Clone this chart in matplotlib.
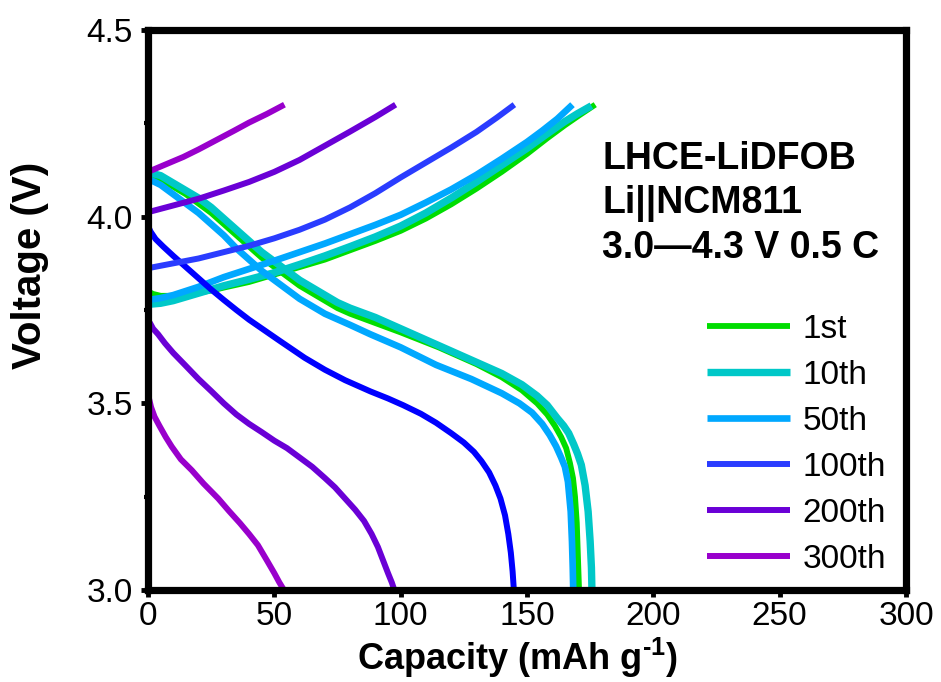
import matplotlib
matplotlib.use("Agg")
import matplotlib.pyplot as plt
from matplotlib.ticker import MultipleLocator, FormatStrFormatter

plt.rcParams['font.family'] = ['Liberation Sans', 'DejaVu Sans']
plt.rcParams['mathtext.fontset'] = 'custom'
plt.rcParams['mathtext.rm'] = 'Liberation Sans'
plt.rcParams['mathtext.bf'] = 'Liberation Sans:bold'

labels = ["1st", "10th", "50th", "100th", "200th", "300th"]
colors_charge = ["#00dd00", "#00c8c8", "#00a8ff", "#2a3cff", "#6a00d6", "#9900cc"]
colors_discharge = ["#00dd00", "#00c8c8", "#00a8ff", "#0000ff", "#6a00d6", "#9900cc"]
widths = [4.2, 5.3, 4.8, 4.3, 4.3, 4.3]

# charge curves (capacity mAh/g, voltage V)
c1_cap = [0, 2, 5, 10, 15, 20, 25, 30, 40, 50, 60, 70, 80, 90, 100, 110, 120, 130, 140, 150, 158, 165, 171, 177]
c1_v = [3.80, 3.793, 3.788, 3.788, 3.792, 3.797, 3.802, 3.81, 3.825, 3.845, 3.865, 3.885, 3.91, 3.935,
        3.962, 3.995, 4.033, 4.075, 4.12, 4.168, 4.21, 4.245, 4.273, 4.30]
c10_cap = [0, 5, 10, 20, 30, 40, 50, 60, 70, 80, 90, 100, 110, 120, 130, 140, 150, 158, 165, 170, 175.5]
c10_v = [3.765, 3.768, 3.775, 3.795, 3.815, 3.832, 3.85, 3.872, 3.895, 3.92, 3.946, 3.975, 4.01, 4.05,
         4.093, 4.138, 4.183, 4.222, 4.255, 4.276, 4.297]
c50_cap = [0, 5, 10, 20, 30, 40, 50, 60, 70, 80, 90, 100, 110, 120, 130, 140, 150, 156, 162, 168]
c50_v = [3.777, 3.782, 3.79, 3.812, 3.838, 3.86, 3.882, 3.905, 3.928, 3.953, 3.978, 4.005, 4.038, 4.073,
         4.112, 4.155, 4.20, 4.23, 4.262, 4.30]
c100_cap = [0, 10, 20, 30, 40, 50, 60, 70, 80, 90, 100, 110, 120, 130, 138, 145]
c100_v = [3.862, 3.875, 3.888, 3.905, 3.922, 3.942, 3.965, 3.992, 4.025, 4.063, 4.105, 4.145, 4.185,
          4.227, 4.265, 4.30]
c200_cap = [0, 10, 20, 30, 40, 50, 60, 70, 80, 90, 98]
c200_v = [4.012, 4.03, 4.048, 4.07, 4.093, 4.12, 4.152, 4.19, 4.228, 4.267, 4.30]
c300_cap = [0, 7, 14, 20, 27, 34, 40, 47, 54]
c300_v = [4.12, 4.14, 4.16, 4.18, 4.205, 4.23, 4.252, 4.275, 4.30]

# discharge curves
d1_cap = [0, 2, 5, 10, 15, 20, 25, 30, 35, 40, 45, 50, 55, 60, 65, 70, 75, 80, 90, 100, 115, 130, 140,
          148, 154, 158, 161, 163.5, 165.5, 167, 168.2, 169, 169.7, 170.1, 170.4, 170.6]
d1_v = [4.10, 4.105, 4.10, 4.08, 4.06, 4.035, 4.01, 3.98, 3.95, 3.92, 3.89, 3.865, 3.84, 3.815, 3.795,
        3.775, 3.755, 3.74, 3.715, 3.69, 3.65, 3.605, 3.57, 3.535, 3.50, 3.47, 3.44, 3.41, 3.38, 3.34,
        3.30, 3.25, 3.18, 3.10, 3.04, 3.0]
d10_cap = [0, 2, 5, 10, 15, 20, 25, 30, 35, 40, 45, 50, 55, 60, 65, 70, 75, 80, 90, 100, 115, 130, 140,
           148, 154, 158, 162, 164.5, 166.5, 168.5, 170, 171.5, 173, 174.2, 175, 175.5, 175.7]
d10_v = [4.11, 4.115, 4.11, 4.09, 4.07, 4.05, 4.025, 3.995, 3.965, 3.935, 3.905, 3.88, 3.855, 3.83,
         3.81, 3.79, 3.77, 3.755, 3.73, 3.70, 3.655, 3.61, 3.58, 3.55, 3.52, 3.495, 3.46, 3.44, 3.42,
         3.39, 3.365, 3.335, 3.28, 3.21, 3.13, 3.06, 3.0]
d50_cap = [0, 2, 5, 10, 15, 20, 25, 30, 35, 40, 45, 50, 55, 60, 65, 70, 75, 80, 88, 100, 114, 128, 140,
           147, 152, 156, 159, 161.5, 163.5, 165, 166.2, 167.3, 167.8, 168.1, 168.3]
d50_v = [4.095, 4.095, 4.085, 4.06, 4.035, 4.01, 3.98, 3.95, 3.915, 3.885, 3.855, 3.83, 3.805, 3.78,
         3.76, 3.74, 3.725, 3.71, 3.685, 3.65, 3.603, 3.565, 3.527, 3.50, 3.475, 3.445, 3.415, 3.385,
         3.355, 3.33, 3.29, 3.21, 3.13, 3.06, 3.0]
d100_cap = [0, 1, 3, 6, 10, 15, 20, 25, 30, 35, 40, 46, 52, 57, 62, 70, 78, 88, 95, 101, 108, 114, 120,
            125, 129, 132, 135, 137.5, 139.5, 141.3, 142.6, 143.6, 144.3, 144.8]
d100_v = [3.975, 3.96, 3.94, 3.92, 3.895, 3.865, 3.835, 3.805, 3.777, 3.75, 3.724, 3.696, 3.668, 3.645,
          3.622, 3.59, 3.562, 3.532, 3.513, 3.495, 3.472, 3.448, 3.42, 3.395, 3.37, 3.345, 3.315, 3.28,
          3.245, 3.20, 3.15, 3.10, 3.05, 3.0]
d200_cap = [0, 0.8, 2, 4, 6.7, 10, 14.6, 20, 25, 30, 35, 40, 45, 50, 55, 60, 65, 70, 74, 78, 82, 85.5,
            88.5, 91, 93, 95, 96.5, 97.5]
d200_v = [3.72, 3.715, 3.70, 3.685, 3.661, 3.635, 3.603, 3.565, 3.533, 3.50, 3.47, 3.445, 3.423, 3.40,
          3.38, 3.355, 3.33, 3.30, 3.275, 3.245, 3.215, 3.185, 3.15, 3.115, 3.08, 3.045, 3.02, 3.0]
d300_cap = [0, 0.5, 1.2, 2.6, 4.5, 7, 9.4, 13, 17.3, 22, 27.8, 32, 36.4, 40, 43.5, 47, 50, 52, 53.8]
d300_v = [3.52, 3.51, 3.49, 3.464, 3.44, 3.41, 3.384, 3.35, 3.321, 3.285, 3.245, 3.212, 3.179, 3.15,
          3.12, 3.08, 3.045, 3.02, 3.0]

charges = [(c1_cap, c1_v), (c10_cap, c10_v), (c50_cap, c50_v),
           (c100_cap, c100_v), (c200_cap, c200_v), (c300_cap, c300_v)]
discharges = [(d1_cap, d1_v), (d10_cap, d10_v), (d50_cap, d50_v),
              (d100_cap, d100_v), (d200_cap, d200_v), (d300_cap, d300_v)]

fig = plt.figure(figsize=(9.41, 6.82), dpi=100)
ax = fig.add_axes([148 / 941, 1 - 590 / 682, 758 / 941, 560 / 682])

for i in range(6):
    ax.plot(discharges[i][0], discharges[i][1], color=colors_discharge[i],
            lw=widths[i], solid_capstyle='butt', solid_joinstyle='round')
    ax.plot(charges[i][0], charges[i][1], color=colors_charge[i],
            lw=widths[i], solid_capstyle='butt', solid_joinstyle='round', label=labels[i])

ax.set_xlim(0, 300)
ax.set_ylim(3.0, 4.5)
ax.xaxis.set_major_locator(MultipleLocator(50))
ax.xaxis.set_minor_locator(MultipleLocator(25))
ax.yaxis.set_major_locator(MultipleLocator(0.5))
ax.yaxis.set_minor_locator(MultipleLocator(0.25))
ax.yaxis.set_major_formatter(FormatStrFormatter('%.1f'))

for s in ax.spines.values():
    s.set_linewidth(5.2)
ax.tick_params(which='major', direction='out', length=5, width=3.5, labelsize=24)
ax.tick_params(which='minor', direction='out', length=3, width=3)
ax.tick_params(axis='x', which='major', pad=3)
ax.tick_params(axis='y', which='major', pad=6)

ax.set_xlabel("Capacity (mAh g$^{\\mathbf{\u20101}}$)", fontsize=26, fontweight='bold', labelpad=0)
ax.xaxis.set_label_coords(0.488, -0.081, transform=ax.transAxes)
ax.xaxis.label.set_va('top')
ax.set_ylabel("Voltage (V)", fontsize=29, fontweight='bold')
ax.yaxis.set_label_coords(-0.13, 0.58)

txt = ["LHCE-LiDFOB", "Li||NCM811", "3.0\u20144.3 V 0.5 C"]
ys = [0.751, 0.673, 0.592]
for t, y in zip(txt, ys):
    ax.text(0.599, y, t, transform=ax.transAxes, fontsize=27, fontweight='bold',
            ha='left', va='baseline')

leg = ax.legend(loc='upper left', bbox_to_anchor=((707 - 148) / 758, (590 - 314) / 560),
                frameon=False, fontsize=24, handlelength=2.5, handletextpad=0.36,
                labelspacing=0.45, borderpad=0, borderaxespad=0)

fig.savefig("out.png", dpi=100)
